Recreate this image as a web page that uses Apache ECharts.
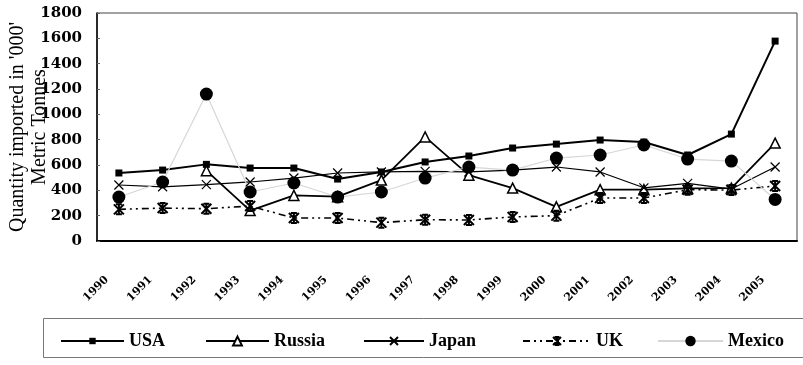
<!DOCTYPE html>
<html>
<head>
<meta charset="utf-8">
<script src="https://cdn.jsdelivr.net/npm/echarts@6/dist/echarts.min.js"></script>
<style>
  html, body { margin: 0; padding: 0; background: #fff; }
  #chart { width: 803px; height: 365px; }
</style>
</head>
<body>
<div id="chart"></div>
<script>
// Imports by country, thousand metric tonnes, 1990-2005
const years = ['1990','1991','1992','1993','1994','1995','1996','1997','1998','1999','2000','2001','2002','2003','2004','2005'];
const usa    = [537, 560, 605, 576, 576, 489, 545, 624, 671, 734, 765, 797, 781, 679, 844, 1578];
const russia = [null, null, 555, 240, 360, 350, 481, 822, 520, 418, 270, 405, 405, 415, 418, 773];
const japan  = [442, 428, 445, 466, 497, 537, 545, 550, 545, 560, 584, 545, 420, 455, 410, 584];
const uk     = [250, 260, 255, 276, 181, 181, 145, 168, 166, 190, 200, 339, 339, 405, 402, 434];
const mexico = [347, 466, 1160, 387, 458, 347, 387, 497, 584, 560, 655, 679, 758, 647, 631, 328];
const yTicks = [0, 200, 400, 600, 800, 1000, 1200, 1400, 1600, 1800];

const xMark = 'path://M0,0L10,10M10,0L0,10';
const starMark = 'path://M0,0L10,10M10,0L0,10M5,0L5,10M2,0L8,0M2,10L8,10';

const chart = echarts.init(document.getElementById('chart'), null, { renderer: 'canvas' });

const legendText = { fontFamily: 'Liberation Serif', fontWeight: 'bold', fontSize: 18, color: '#000' };
function legendFor(name, left, itemWidth, itemHeight) {
  return {
    data: [name], left: left, top: 332, padding: 0,
    itemWidth: itemWidth, itemHeight: itemHeight,
    textStyle: legendText, selectedMode: false
  };
}

chart.setOption({
  animation: false,
  backgroundColor: '#fff',
  grid: {
    left: 97, right: 6, top: 13, bottom: 124,
    outerBoundsMode: 'none', containLabel: false,
    show: true, borderColor: '#444', borderWidth: 1
  },
  legend: [
    legendFor('USA', 60, 63, 8),
    legendFor('Russia', 205, 63, 11),
    legendFor('Japan', 363, 60, 10),
    legendFor('UK', 522, 68, 10),
    legendFor('Mexico', 657, 65, 13)
  ],
  graphic: [{
    type: 'rect', silent: true,
    shape: { x: 43.5, y: 318.5, width: 770, height: 39 },
    style: { fill: 'none', stroke: '#777', lineWidth: 1 }
  }],
  xAxis: {
    type: 'category', data: years, boundaryGap: true,
    axisLine: { lineStyle: { color: '#000', width: 2 } },
    axisTick: { show: false },
    axisLabel: {
      rotate: 45, margin: 25, padding: [0, 17, 0, 0],
      fontFamily: 'DejaVu Serif', fontWeight: 'bold', fontSize: 11, color: '#000'
    },
    splitLine: { show: false }
  },
  yAxis: {
    type: 'value', min: yTicks[0], max: yTicks[yTicks.length - 1], interval: yTicks[1] - yTicks[0],
    name: "Quantity imported in '000'\nMetric Tonnes",
    nameLocation: 'middle', nameRotate: 90, nameGap: 46, nameMoveOverlap: false,
    nameTextStyle: { fontFamily: 'Liberation Serif', fontSize: 20, lineHeight: 22, color: '#000' },
    axisLine: { show: true, lineStyle: { color: '#000', width: 1.5 } },
    axisTick: { show: true, inside: true, length: 3, lineStyle: { color: '#666' } },
    axisLabel: {
      margin: 15, fontFamily: 'DejaVu Serif', fontWeight: 'bold', fontSize: 15, color: '#000',
      formatter: function (v) { return String(v); }
    },
    splitLine: { show: false }
  },
  series: [
    {
      name: 'USA', type: 'line', data: usa,
      symbol: 'rect', symbolSize: 7,
      lineStyle: { color: '#000', width: 2 },
      itemStyle: { color: '#000' }
    },
    {
      name: 'Russia', type: 'line', data: russia,
      symbol: 'triangle', symbolSize: 10,
      lineStyle: { color: '#000', width: 1.8 },
      itemStyle: { color: '#fff', borderColor: '#000', borderWidth: 1.5 }
    },
    {
      name: 'Japan', type: 'line', data: japan,
      symbol: xMark, symbolSize: 9,
      lineStyle: { color: '#000', width: 1.2 },
      itemStyle: { color: '#000', borderColor: '#000', borderWidth: 1.2 }
    },
    {
      name: 'UK', type: 'line', data: uk,
      symbol: starMark, symbolSize: 10,
      lineStyle: { color: '#000', width: 1.6, type: [7, 4, 2, 4, 2, 4] },
      itemStyle: { color: '#000', borderColor: '#000', borderWidth: 2 }
    },
    {
      name: 'Mexico', type: 'line', data: mexico,
      symbol: 'circle', symbolSize: 13,
      lineStyle: { color: '#d6d6d6', width: 1.2 },
      itemStyle: { color: '#000' }
    }
  ]
});
</script>
</body>
</html>
